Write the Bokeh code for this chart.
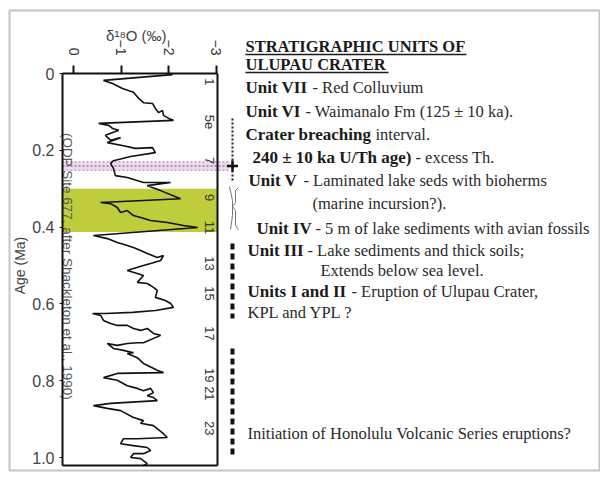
import math
from bokeh.plotting import figure
from bokeh.models import Range1d, FixedTicker, ColumnDataSource
from bokeh.core.properties import value
from bokeh.embed import file_html
from bokeh.resources import INLINE

# ---------------- data ----------------
age_ma = [0.003, 0.018, 0.026, 0.039, 0.049, 0.065, 0.076, 0.078, 0.091, 0.102,
          0.096, 0.109, 0.117, 0.122, 0.130, 0.135, 0.143, 0.148, 0.161, 0.174,
          0.167, 0.180, 0.188, 0.195, 0.193, 0.206, 0.216, 0.227, 0.234, 0.247,
          0.266, 0.271, 0.284, 0.284, 0.292, 0.305, 0.326, 0.336, 0.339, 0.349,
          0.362, 0.357, 0.370, 0.375, 0.383, 0.388, 0.396, 0.401, 0.422, 0.430,
          0.440, 0.448, 0.453, 0.461, 0.469, 0.479, 0.474, 0.487, 0.495, 0.500,
          0.508, 0.513, 0.521, 0.526, 0.544, 0.547, 0.557, 0.565, 0.583, 0.591,
          0.599, 0.609, 0.617, 0.622, 0.625, 0.625, 0.630, 0.643, 0.651, 0.656,
          0.656, 0.664, 0.669, 0.664, 0.677, 0.682, 0.701, 0.701, 0.703, 0.708,
          0.703, 0.716, 0.721, 0.727, 0.729, 0.740, 0.755, 0.773, 0.779, 0.781,
          0.792, 0.799, 0.813, 0.820, 0.826, 0.820, 0.831, 0.839, 0.844, 0.852,
          0.859, 0.865, 0.872, 0.878, 0.896, 0.904, 0.911, 0.917, 0.938, 0.948,
          0.951, 0.951, 0.964, 0.969, 0.974, 0.982, 0.990, 0.990, 1.000, 1.003,
          1.016, 1.021]
d18o_permil = [-2.08, -0.63, -0.82, -1.03, -1.26, -1.37, -1.47, -1.66, -1.72, -1.79,
               -1.87, -1.89, -2.00, -2.10, -0.53, -0.74, -0.82, -0.95, -0.67, -0.78,
               -0.99, -0.71, -1.05, -1.30, -1.66, -1.72, -1.20, -0.84, -0.78, -0.84,
               -0.88, -1.13, -1.47, -2.04, -1.55, -1.83, -2.25, -0.57, -0.78, -0.92,
               -0.99, -1.13, -1.26, -1.41, -1.62, -1.97, -2.31, -2.61, -0.42, -0.71,
               -0.92, -1.13, -1.26, -1.41, -1.55, -1.76, -1.89, -1.83, -1.62, -1.47,
               -1.26, -1.13, -1.34, -1.47, -1.34, -1.55, -1.68, -1.76, -1.72, -1.93,
               -2.04, -2.10, -1.72, -1.24, -0.67, -0.40, -0.57, -0.63, -0.78, -0.92,
               -1.13, -1.26, -1.41, -1.55, -1.68, -1.83, -1.47, -1.34, -1.13, -0.92,
               -0.71, -0.84, -1.05, -1.26, -1.13, -1.34, -1.47, -1.76, -1.89, -0.92,
               -0.63, -0.92, -1.13, -1.34, -1.47, -1.62, -1.68, -1.55, -1.68, -1.76,
               -0.78, -0.42, -0.71, -0.99, -1.26, -1.47, -1.41, -1.68, -1.89, -1.97,
               -1.34, -1.05, -0.99, -1.26, -1.55, -1.62, -1.47, -1.26, -1.20, -1.41,
               -1.55, -1.47]

stage_names = ["1", "5e", "7", "9", "11", "13", "15", "17", "19", "21", "23"]
stage_age = [0.022, 0.126, 0.227, 0.323, 0.401, 0.495, 0.573, 0.677, 0.786, 0.833, 0.924]

x_tick_values = [0, -1, -2, -3]
y_tick_values = [0, 0.2, 0.4, 0.6, 0.8, 1.0]
y_tick_labels = ["0", "0.2", "0.4", "0.6", "0.8", "1.0"]

lake_interval = [0.300, 0.413]          # green band (Units IV-V)
th_age = 0.241                          # 240 +/- 10 ka U/Th age
th_err = 0.011
breach_interval = [0.117, 0.284]        # dotted line: crater breaching
unit_intervals = [[0.443, 0.638], [0.716, 0.997]]  # thick dashed lines

x_title = "\u03b4\u00b9\u2078O   (\u2030)"
y_title = "Age (Ma)"
title_lines = ["STRATIGRAPHIC UNITS OF", "ULUPAU CRATER"]
bold_parts = ["Unit VII", "Unit VI", "Crater breaching", "240 \u00b1 10 ka U/Th age)", "Unit V",
              "", "Unit IV", "Unit III", "", "Units I and II", "", ""]
regular_parts = ["- Red Colluvium", "- Waimanalo Fm (125 \u00b1 10 ka).", "interval.",
                 "- excess Th.", "- Laminated lake seds with bioherms", "(marine incursion?).",
                 "- 5 m of lake sediments with avian fossils", "- Lake sediments and thick soils;",
                 "Extends below sea level.", "- Eruption of Ulupau Crater,", "KPL and YPL ?",
                 "Initiation of Honolulu Volcanic Series eruptions?"]
ref_note = "(ODP Site 677, after Shackleton et al., 1990)"

# ---------------- layout (positions, sizes, styles) ----------------
W, H = 600, 476
FR_L, FR_R, FR_T, FR_B = 9, 599, 10, 470       # outer frame on the page
X0_PX, X_SCALE = 73, 47.6                      # d18O = 0 at page x 73, px per permil
Y0_PX, Y_SCALE = 73, 384.0                     # age 0 at page y 73, px per Ma
X_START = (X0_PX - FR_L) / X_SCALE
X_END = -(FR_R - X0_PX) / X_SCALE
Y_TOP = (FR_T - Y0_PX) / Y_SCALE
Y_BOT = (FR_B - Y0_PX) / Y_SCALE
BOX_LEFT = 0.231
BOX_RIGHT = -3.025
AGE_BOX = 1.021
STAGE_X = -2.85
MARK_X = -3.34
BAND_END = -3.28
BASE_SHIFT = 6                                 # alphabetic baseline correction (px)

title_pos = [(245, 52, 466), (245, 70, 388)]
bold_x = [245, 245, 245, 252, 248, None, 256, 247, None, 247, None, None]
reg_x = [312, 305, 375, 415, 303, 312, 315, 307, 320, 351, 247, 247]
row_y = [93, 117, 140, 163, 186, 209, 234, 256, 276, 297, 318, 439]
SERIF = "Liberation Serif"
SANS = "Liberation Sans"

p = figure(width=W, height=H,
           x_range=Range1d(X_START, X_END), y_range=Range1d(Y_BOT, Y_TOP),
           x_axis_location="above", y_axis_location="left",
           output_backend="svg", toolbar_location=None,
           min_border_left=FR_L, min_border_right=W - FR_R,
           min_border_top=FR_T, min_border_bottom=H - FR_B,
           background_fill_color="white", border_fill_color="white")
p.extra_x_ranges = {"px": Range1d(FR_L, FR_R)}
p.extra_y_ranges = {"py": Range1d(FR_B, FR_T)}
p.grid.visible = False
p.outline_line_color = "#c4c4c4"
p.outline_line_width = 2

# top axis (delta 18O), drawn along the top of the isotope panel
xa = p.xaxis[0]
xa.fixed_location = 0
xa.ticker = FixedTicker(ticks=x_tick_values)
xa.bounds = (BOX_RIGHT, BOX_LEFT)
xa.axis_line_width = 2
xa.axis_line_color = "#111111"
xa.major_tick_line_width = 2
xa.major_tick_line_color = "#111111"
xa.major_tick_out = 8
xa.major_tick_in = 0
xa.minor_tick_line_color = None
xa.major_label_orientation = -math.pi / 2
xa.major_label_standoff = 10
xa.major_label_text_font = SANS
xa.major_label_text_font_size = "14px"
xa.major_label_text_color = "#333333"

# left axis (age)
ya = p.yaxis[0]
ya.fixed_location = BOX_LEFT
ya.ticker = FixedTicker(ticks=y_tick_values)
ya.major_label_overrides = {v: s for v, s in zip(y_tick_values, y_tick_labels)}
ya.bounds = (0, AGE_BOX)
ya.axis_line_width = 2
ya.axis_line_color = "#111111"
ya.major_tick_out = 3
ya.major_tick_in = 0
ya.major_tick_line_color = "#111111"
ya.minor_tick_line_color = None
ya.major_label_standoff = 5
ya.major_label_text_font = SANS
ya.major_label_text_font_size = "16px"
ya.major_label_text_color = "#444444"

# axis titles
p.text(x=[140], y=[35], text=[x_title], x_range_name="px", y_range_name="py",
       text_align="center", text_baseline="middle", text_font=value(SANS),
       text_font_size="15px", text_color="#444444")
p.text(x=[19], y=[265], text=[y_title], x_range_name="px", y_range_name="py",
       angle=math.pi / 2, text_align="center", text_baseline="middle",
       text_font=value(SANS), text_font_size="14px", text_color="#444444")

# green band (lake sediments)
p.quad(left=[BOX_LEFT], right=[BOX_RIGHT], top=[lake_interval[0]], bottom=[lake_interval[1]],
       fill_color="#bfcc3c", line_color=None)
# U/Th age band
p.quad(left=[BOX_LEFT], right=[BAND_END], top=[th_age - th_err], bottom=[th_age + th_err],
       fill_color="#e8dcef", line_color=None)
for yy, col in [(th_age - th_err, "#d27a98"), (th_age + th_err, "#d27a98"), (th_age, "#7a3c60")]:
    p.segment(x0=[BOX_LEFT], x1=[BAND_END], y0=[yy], y1=[yy], line_color=col,
              line_width=1, line_dash="2 2")

# isotope curve
src = ColumnDataSource(dict(age=age_ma, d18o=d18o_permil))
p.line("d18o", "age", source=src, line_color="#111111", line_width=1.6)

# right and bottom edges of the isotope panel
p.segment(x0=[BOX_RIGHT], x1=[BOX_RIGHT], y0=[0], y1=[AGE_BOX], line_color="#111111", line_width=2)
p.segment(x0=[BOX_LEFT], x1=[BOX_RIGHT], y0=[AGE_BOX], y1=[AGE_BOX], line_color="#111111", line_width=2)

# marine isotope stage numbers
p.text(x=[STAGE_X] * len(stage_names), y=stage_age, text=stage_names, angle=-math.pi / 2,
       text_align="center", text_baseline="middle", text_font=value(SANS),
       text_font_size="13px", text_color="#333333")

# source note
p.text(x=[67], y=[266], text=[ref_note], x_range_name="px", y_range_name="py",
       angle=-math.pi / 2, text_align="center", text_baseline="middle",
       text_font=value(SANS), text_font_size="13.5px", text_color="#555555")

# interval markers right of the panel
p.segment(x0=[MARK_X], x1=[MARK_X], y0=[breach_interval[0]], y1=[breach_interval[1]],
          line_color="#222222", line_width=2, line_dash="2 2")
p.scatter(x=[MARK_X], y=[th_age], marker="cross", size=11, line_width=2.5, line_color="#111111")
for a0, a1 in unit_intervals:
    p.segment(x0=[MARK_X], x1=[MARK_X], y0=[a0], y1=[a1], line_color="#111111",
              line_width=4, line_dash="6 4")
# braces next to Units V / IV
p.line(x=[229, 232, 232, 230], y=[186, 200, 215, 229], x_range_name="px", y_range_name="py",
       line_color="#777777", line_width=1)
p.line(x=[238, 235, 235, 232, 235, 235, 238], y=[187, 190, 202, 206, 210, 225, 229],
       x_range_name="px", y_range_name="py", line_color="#777777", line_width=1)

# stratigraphic text
for txt, (tx, ty, tend) in zip(title_lines, title_pos):
    p.text(x=[tx], y=[ty - BASE_SHIFT], text=[txt], x_range_name="px", y_range_name="py",
           text_font=value(SERIF), text_font_size="16.5px", text_font_style="bold",
           text_color="#1a1a1a", text_baseline="alphabetic", text_align="left")
    p.segment(x0=[tx], x1=[tend], y0=[ty + 2], y1=[ty + 2], x_range_name="px",
              y_range_name="py", line_color="#1a1a1a", line_width=1.3)

for b, bx, r, rx, yy in zip(bold_parts, bold_x, regular_parts, reg_x, row_y):
    if b:
        p.text(x=[bx], y=[yy - BASE_SHIFT], text=[b], x_range_name="px", y_range_name="py",
               text_font=value(SERIF), text_font_size="17px", text_font_style="bold",
               text_color="#1a1a1a", text_baseline="alphabetic", text_align="left")
    p.text(x=[rx], y=[yy - BASE_SHIFT], text=[r], x_range_name="px", y_range_name="py",
           text_font=value(SERIF), text_font_size="16.5px", text_font_style="normal",
           text_color="#2a2a2a", text_baseline="alphabetic", text_align="left")

open("out.html", "w").write(file_html(p, INLINE))
